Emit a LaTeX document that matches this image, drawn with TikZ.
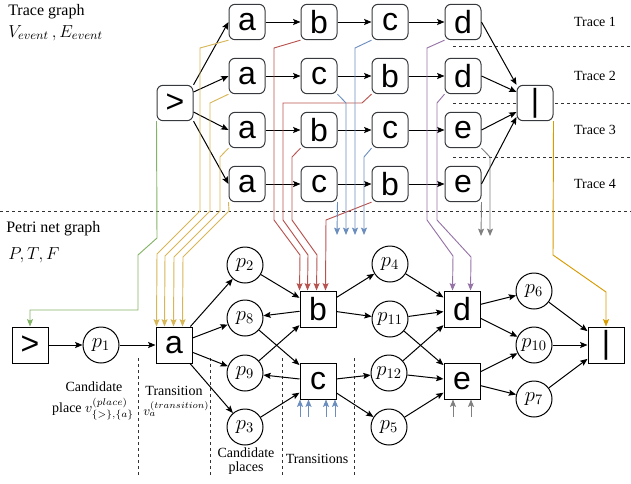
\RequirePackage{fix-cm}
\documentclass[tikz,border=0pt]{standalone}
\usepackage[no-math]{fontspec}
\setmainfont{Liberation Serif}
\newfontfamily\helv{Liberation Sans}
\usetikzlibrary{arrows.meta,calc}
\definecolor{cgreen}{HTML}{82B366}
\definecolor{cyel}{HTML}{D6B656}
\definecolor{cred}{HTML}{B85450}
\definecolor{cblue}{HTML}{6C8EBF}
\definecolor{cpurp}{HTML}{9673A6}
\definecolor{cgray}{HTML}{808080}
\definecolor{corange}{HTML}{D79B00}
\definecolor{cborder}{HTML}{36393D}
\begin{document}
\begin{tikzpicture}[x=0.75pt,y=-0.75pt,
  >={Stealth[length=5.5pt,width=4.5pt,inset=1pt]},
  tnode/.style={draw=cborder, fill=white, rounded corners=4.5pt, minimum width=27pt, minimum height=26.5pt, inner sep=0pt, font=\helv\fontsize{24}{24}\selectfont, line width=0.75pt},
  pbox/.style={draw, fill=white, minimum size=27pt, inner sep=0pt, font=\helv\fontsize{24}{24}\selectfont, line width=0.75pt},
  place/.style={draw, circle, fill=white, minimum size=27pt, inner sep=0pt, font=\fontsize{15.5}{15.5}\selectfont, line width=0.75pt},
  edge/.style={->, line width=0.75pt},
  map/.style={->, line width=0.7pt},
  sep/.style={dash pattern=on 2.5pt off 2pt, line width=0.7pt, draw=black!80},
  lab/.style={font=\fontsize{10.5}{12}\selectfont, inner sep=0pt},
  head/.style={font=\fontsize{12}{14}\selectfont, inner sep=0pt, anchor=west}
]
\useasboundingbox (0,0) rectangle (631,483);

% separators
\draw[sep] (0,211) -- (631,211);
\draw[sep] (453,46) -- (631,46);
\draw[sep] (453,103) -- (631,103);
\draw[sep] (453,157) -- (631,157);
\foreach \xx in {138,210,282,354} \draw[sep] (\xx,358) -- (\xx,475);

% headings
\node[head] (h1) at (8,12) {Trace graph};
\node[head, font=\fontsize{13}{14}\selectfont] (h2) at (8,33) {$V_{event}\,, E_{event}$};
\node[head] (h3) at (6,229) {Petri net graph};
\node[head, font=\fontsize{13}{14}\selectfont] (h4) at (8,255) {$P, T, F$};

\node[lab] (t1) at (595,22) {Trace 1};
\node[lab] (t2) at (595,76) {Trace 2};
\node[lab] (t3) at (595,130) {Trace 3};
\node[lab] (t4) at (595,184) {Trace 4};

\node[lab] (l1) at (94,387) {Candidate};
\node[lab, anchor=east] (l2) at (134,409) {place $v^{(place)}_{\{>\},\{a\}}$};
\node[lab] (l3) at (174,391) {Transition};
\node[lab, anchor=west, font=\fontsize{10}{12}\selectfont] (l4) at (143,409) {$v_a^{(transition)}$};
\node[lab] (l5) at (246,453) {Candidate};
\node[lab] (l6) at (246,468) {places};
\node[lab] (l7) at (317,459) {Transitions};

% trace graph nodes
\node[tnode] (tgt) at (175,103) {>};
\node[tnode] (ta1) at (247,22) {a};
\node[tnode] (tb1) at (319,22) {b};
\node[tnode] (tc1) at (390,22) {c};
\node[tnode] (td1) at (463,22) {d};
\node[tnode] (ta2) at (247,76) {a};
\node[tnode] (tc2) at (319,76) {c};
\node[tnode] (tb2) at (390,76) {b};
\node[tnode] (td2) at (463,76) {d};
\node[tnode] (ta3) at (247,130) {a};
\node[tnode] (tb3) at (319,130) {b};
\node[tnode] (tc3) at (390,130) {c};
\node[tnode] (te3) at (463,130) {e};
\node[tnode] (ta4) at (247,184) {a};
\node[tnode] (tc4) at (319,184) {c};
\node[tnode] (tb4) at (390,184) {b};
\node[tnode] (te4) at (463,184) {e};
\node[tnode] (tend) at (535,103) {|};

% petri net nodes
\node[pbox] (pgt) at (30,345) {>};
\node[place] (p1) at (101,345) {$p_1$};
\node[pbox] (pa) at (174,345) {a};
\node[place] (p2) at (245,265) {$p_2$};
\node[place] (p8) at (245,318) {$p_8$};
\node[place] (p9) at (245,373) {$p_9$};
\node[place] (p3) at (245,427) {$p_3$};
\node[pbox] (pb) at (318,309) {b};
\node[pbox] (pc) at (318,381) {c};
\node[place] (p4) at (390,264) {$p_4$};
\node[place] (p11) at (390,319) {$p_{11}$};
\node[place] (p12) at (389,373) {$p_{12}$};
\node[place] (p5) at (389,427) {$p_5$};
\node[pbox] (pd) at (462,309) {d};
\node[pbox] (pe) at (462,381) {e};
\node[place] (p6) at (534,291) {$p_6$};
\node[place] (p10) at (534,345) {$p_{10}$};
\node[place] (p7) at (534,399) {$p_7$};
\node[pbox] (pend) at (606,345) {|};

% trace edges
\draw[edge] (tgt.north east) -- (ta1.west);
\draw[edge] ($(tgt.east)+(0,-11)$) -- (ta2.west);
\draw[edge] ($(tgt.east)+(0,9)$) -- (ta3.west);
\draw[edge] (tgt.south east) -- (ta4.west);
\draw[edge] (ta1) -- (tb1);
\draw[edge] (tb1) -- (tc1);
\draw[edge] (tc1) -- (td1);
\draw[edge] (ta2) -- (tc2);
\draw[edge] (tc2) -- (tb2);
\draw[edge] (tb2) -- (td2);
\draw[edge] (ta3) -- (tb3);
\draw[edge] (tb3) -- (tc3);
\draw[edge] (tc3) -- (te3);
\draw[edge] (ta4) -- (tc4);
\draw[edge] (tc4) -- (tb4);
\draw[edge] (tb4) -- (te4);
\draw[edge] (td1.east) -- (tend.north west);
\draw[edge] (td2.east) -- ($(tend.west)+(0,-11)$);
\draw[edge] (te3.east) -- ($(tend.west)+(0,9)$);
\draw[edge] (te4.east) -- ($(tend.west)+(0,14)$);

% petri edges
\draw[edge] (pgt) -- (p1);
\draw[edge] (p1) -- (pa);
\draw[edge] (pa) -- (p2);
\draw[edge] (pa) -- (p8);
\draw[edge] (pa) -- (p9);
\draw[edge] (pa) -- (p3);
\draw[edge] (p2) -- (pb);
\draw[edge] (pb) -- (p8);
\draw[edge] (p8) -- (pc);
\draw[edge] (p9) -- (pb);
\draw[edge] (pc) -- (p9);
\draw[edge] (p3) -- (pc);
\draw[edge] (pb) -- (p4);
\draw[edge] (pb) -- (p11);
\draw[edge] (pc) -- (p12);
\draw[edge] (pc) -- (p5);
\draw[edge] (p4) -- (pd);
\draw[edge] (p11) -- (pd);
\draw[edge] (p11) -- (pe);
\draw[edge] (p12) -- (pd);
\draw[edge] (p12) -- (pe);
\draw[edge] (p5) -- (pe);
\draw[edge] (pd) -- (p6);
\draw[edge] (pd) -- (p10);
\draw[edge] (pe) -- (p10);
\draw[edge] (pe) -- (p7);
\draw[edge] (p6) -- (pend);
\draw[edge] (p10) -- (pend);
\draw[edge] (p7) -- (pend);

% mapping lines
\draw[map, cgreen] (tgt.south west) -- (157,238) -- (138,255) -- (138,310) -- (30,310) -- (pgt.north);

\draw[map, cyel] (ta1.south west) -- (200,48) -- (200,211) -- (157,254) -- ($(pa.north west)+(1,0)$);
\draw[map, cyel] (ta2.south west) -- (210,103) -- (210,211) -- (165,256) -- ($(pa.north west)+(9,0)$);
\draw[map, cyel] (ta3.south west) -- (220,157) -- (220,211) -- (174,257) -- ($(pa.north west)+(18,0)$);
\draw[map, cyel] (ta4.south west) -- (229,211) -- (183,257) -- ($(pa.north west)+(27,0)$);

\draw[map, cred] (tb1.south west) -- (274,48) -- (274,220) -- (300,255) -- (pb.north west);
\draw[map, cred] (tb2.south west) -- (362,103) -- (283,103) -- (283,220) -- (308,255) -- ($(pb.north west)+(8,0)$);
\draw[map, cred] (tb3.south west) -- (292,157) -- (292,220) -- (317,255) -- ($(pb.north west)+(17,0)$);
\draw[map, cred] (tb4.south west) -- (326,220) -- ($(pb.north west)+(26,0)$);

\coordinate (cb1) at (355,235);
\coordinate (cb2) at (346,235);
\coordinate (cb3) at (364,235);
\coordinate (cb4) at (337,235);
\draw[map, cblue] (tc1.south west) -- (355,48) -- (cb1);
\draw[map, cblue] (tc2.south east) -- (346,103) -- (cb2);
\draw[map, cblue] (tc3.south west) -- (364,157) -- (cb3);
\draw[map, cblue] (tc4.south east) -- (cb4);

\foreach \xx [count=\i] in {300,308.5,326,335} {
  \coordinate (cs\i) at (\xx,417);
  \draw[map, cblue] (cs\i) -- (cs\i |- pc.south);
}

\draw[map, cpurp] (td1.south west) -- (427,48) -- (427,220) -- (453,256) -- ($(pd.north west)+(9,0)$);
\draw[map, cpurp] (td2.south west) -- (437,103) -- (437,220) -- (471,257) -- ($(pd.north west)+(27,0)$);

\coordinate (cg1) at (490,236);
\coordinate (cg2) at (481,236);
\draw[map, cgray] (te3.south east) -- (490,157) -- (cg1);
\draw[map, cgray] (te4.south east) -- (cg2);
\coordinate (gs1) at (453,417);
\coordinate (gs2) at (471,417);
\draw[map, cgray] (gs1) -- (gs1 |- pe.south);
\draw[map, cgray] (gs2) -- (gs2 |- pe.south);

\draw[map, corange] (tend.south east) -- (553,255) -- (606,292) -- (pend.north);
\end{tikzpicture}
\end{document}
